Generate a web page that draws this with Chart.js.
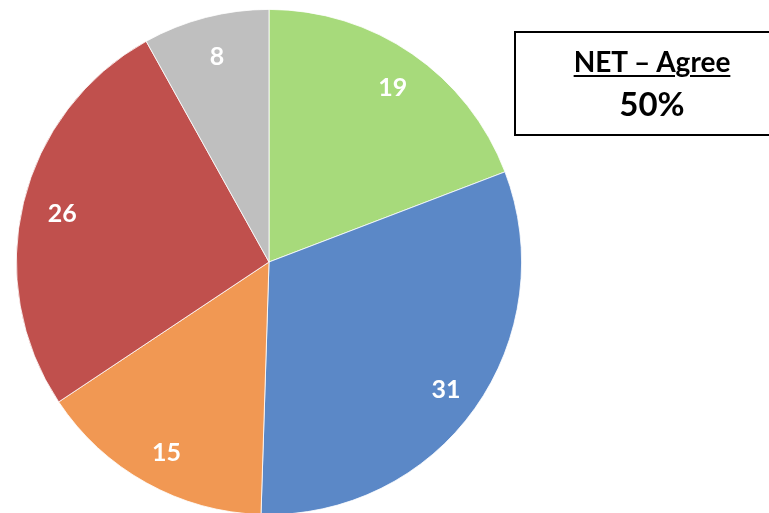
<!DOCTYPE html>
<html>
<head>
<meta charset="utf-8">
<script src="https://cdn.jsdelivr.net/npm/chart.js@4"></script>
<style>
    html, body { margin: 0; padding: 0; background: #fff; overflow: hidden; }
    body { width: 769px; height: 513px; position: relative; }
    #pie-wrap { position: absolute; left: 16px; top: 9px; width: 506px; height: 506px; }
    #net-box {
        position: absolute; left: 514px; top: 31px; width: 270px; height: 101px;
        border: 2px solid #000; box-sizing: content-box;
        font-family: Lato, 'Open Sans', sans-serif; font-weight: 700; color: #000;
    }
    #net-box .title { position: absolute; left: 0; width: 272px; top: 11px; text-align: center; font-size: 28px; text-decoration: underline; text-decoration-thickness: 2px; text-underline-offset: 3px; }
    #net-box .value { position: absolute; left: 0; width: 272px; top: 50px; text-align: center; font-size: 33px; }
</style>
</head>
<body>
<div id="pie-wrap"><canvas id="pie-chart"></canvas></div>
<div id="net-box"><div class="title">NET – Agree</div><div class="value">50%</div></div>
<script>
const labels = ['A', 'B', 'C', 'D', 'E'];
const values = [19, 31, 15, 26, 8];
const sliceColors = ['#a7da7b', '#5b88c7', '#f19853', '#c0504d', '#bfbfbf'];

// white value labels placed near the outer edge of each slice
const sliceLabels = {
    id: 'sliceLabels',
    afterDatasetsDraw(chart) {
        const { ctx } = chart;
        const meta = chart.getDatasetMeta(0);
        ctx.save();
        ctx.fillStyle = '#fff';
        ctx.font = 'bold 25px Lato, "Open Sans", sans-serif';
        ctx.textAlign = 'center';
        ctx.textBaseline = 'middle';
        meta.data.forEach((arc, i) => {
            const mid = (arc.startAngle + arc.endAngle) / 2;
            const r = arc.outerRadius * 0.85;
            ctx.fillText(String(values[i]), arc.x + Math.cos(mid) * r + 2, arc.y + Math.sin(mid) * r + 3);
        });
        ctx.restore();
    },
};

new Chart(document.getElementById('pie-chart').getContext('2d'), {
    type: 'pie',
    data: {
        labels,
        datasets: [
            {
                data: values,
                backgroundColor: sliceColors,
                borderColor: '#ffffff',
                borderWidth: 0.8,
            },
        ],
    },
    options: {
        responsive: true,
        maintainAspectRatio: false,
        animation: false,
        layout: { padding: 0 },
        plugins: {
            legend: { display: false },
            tooltip: { enabled: false },
        },
    },
    plugins: [sliceLabels],
});
</script>
</body>
</html>
